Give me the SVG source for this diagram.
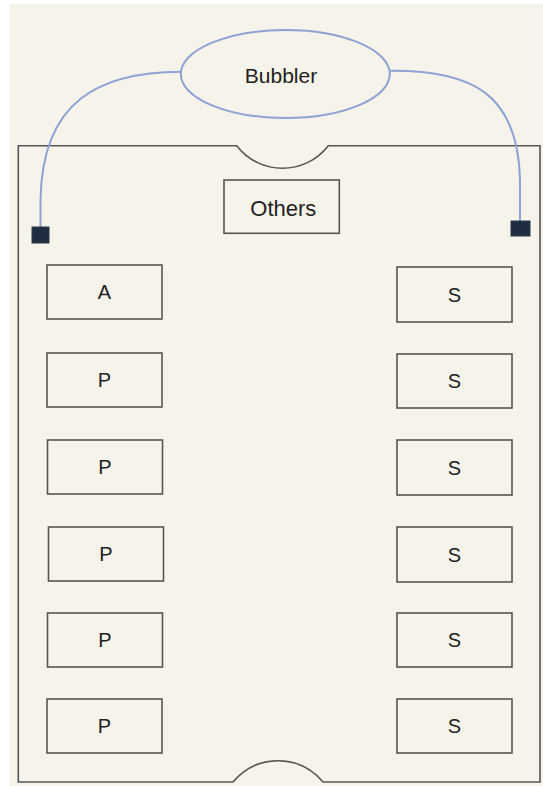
<svg xmlns="http://www.w3.org/2000/svg" width="543" height="786" viewBox="0 0 543 786">
<style>
.box{fill:none;stroke:#555;stroke-width:1.6}
.lbl{font-family:"Liberation Sans",Arial,sans-serif;font-size:20px;fill:#222;text-anchor:middle;dominant-baseline:central}
.cable{fill:none;stroke:#8ea2d4;stroke-width:2}
.plug{fill:#1e2e40;stroke:#2a3a4c;stroke-width:1}
</style>
<rect x="0" y="0" width="543" height="786" fill="#ffffff"/>
<rect x="10" y="4" width="533" height="782" fill="#f6f4ea"/>
<g id="tank">
<path d="M18.3 145.7 L236.7 145.7 C260 175.8 305 175.8 328.3 145.7 L540 145.7 L540 782 L323 782 C299 753.6 257 753.6 233 782 L18.3 782 Z" fill="none" stroke="#555" stroke-width="1.6"/>
</g>
<g id="connectors">
<path class="cable" d="M181 71.7 C100 72 42 100 40.5 200 L40.5 227"/>
<path class="cable" d="M390 70.7 C470 70 518 92 520 180 L520 221"/>
</g>
<g id="bubbler">
<ellipse cx="285.3" cy="74" rx="104.5" ry="44" fill="none" stroke="#8ea2d4" stroke-width="2"/>
<text x="281" y="83.3" style="font-family:'Liberation Sans',Arial,sans-serif;font-size:21px;fill:#222;text-anchor:middle">Bubbler</text>
</g>
<g id="plug-left"><rect class="plug" x="32" y="227" width="17" height="16"/></g>
<g id="plug-right"><rect class="plug" x="511" y="221" width="19" height="15"/></g>
<g id="others"><rect class="box" x="224" y="180" width="115.3" height="53.3"/><text x="283.3" y="216" style="font-family:'Liberation Sans',Arial,sans-serif;font-size:22px;fill:#222;text-anchor:middle">Others</text></g>
<g id="left-1"><rect class="box" x="47" y="265" width="115" height="54"/><text class="lbl" x="104.5" y="292">A</text></g>
<g id="left-2"><rect class="box" x="47" y="353" width="115" height="54"/><text class="lbl" x="104.5" y="380">P</text></g>
<g id="left-3"><rect class="box" x="47.5" y="440" width="115" height="54"/><text class="lbl" x="105" y="467">P</text></g>
<g id="left-4"><rect class="box" x="48.5" y="527" width="115" height="54"/><text class="lbl" x="106" y="554">P</text></g>
<g id="left-5"><rect class="box" x="47.5" y="613" width="115" height="54"/><text class="lbl" x="105" y="640">P</text></g>
<g id="left-6"><rect class="box" x="47" y="699" width="115" height="54"/><text class="lbl" x="104.5" y="726">P</text></g>
<g id="right-1"><rect class="box" x="397" y="267" width="115" height="55"/><text class="lbl" x="454.5" y="294.5">S</text></g>
<g id="right-2"><rect class="box" x="397" y="354" width="115" height="54"/><text class="lbl" x="454.5" y="381">S</text></g>
<g id="right-3"><rect class="box" x="397" y="440" width="115" height="55"/><text class="lbl" x="454.5" y="467.5">S</text></g>
<g id="right-4"><rect class="box" x="397" y="527" width="115" height="55"/><text class="lbl" x="454.5" y="554.5">S</text></g>
<g id="right-5"><rect class="box" x="397" y="613" width="115" height="54"/><text class="lbl" x="454.5" y="640">S</text></g>
<g id="right-6"><rect class="box" x="397" y="699" width="115" height="54"/><text class="lbl" x="454.5" y="726">S</text></g>
</svg>
